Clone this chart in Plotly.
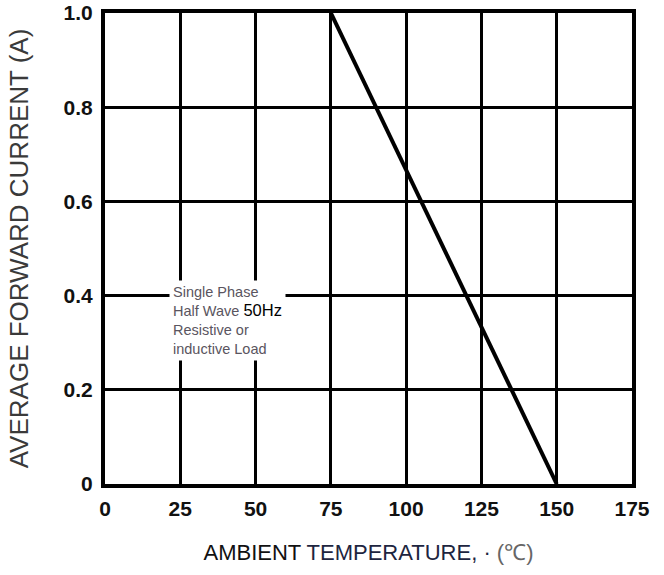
import plotly.graph_objects as go

# data
temp = [75, 150]
current = [1.0, 0.0]
x_ticks = [0, 25, 50, 75, 100, 125, 150, 175]
x_tick_labels = ["0", "25", "50", "75", "100", "125", "150", "175"]
y_ticks = [0, 0.2, 0.4, 0.6, 0.8, 1.0]
y_tick_labels = ["0", "0.2", "0.4", "0.6", "0.8", "1.0"]

fig = go.Figure()
fig.add_trace(go.Scatter(x=temp, y=current, mode="lines",
                         line=dict(color="black", width=4), showlegend=False,
                         hoverinfo="skip"))

tickfont = dict(family="Liberation Sans, Arial", size=21, color="#111111", weight="bold")

fig.update_layout(
    width=664, height=575,
    margin=dict(l=105, r=32, t=13, b=91),
    paper_bgcolor="white", plot_bgcolor="white",
    xaxis=dict(range=[0, 175], tickvals=x_ticks, ticktext=x_tick_labels,
               showgrid=True, gridcolor="black", gridwidth=2.5, automargin=False,
               zeroline=False, showline=True, linecolor="black", linewidth=4, mirror=True,
               ticks="", tickfont=tickfont, ticklabelstandoff=3,
               title=dict(text=("AMBIENT <span style='color:#1d2540'>TEMPERATURE, ·</span> "
                                "<span style='color:#666666'>(℃)</span>"),
                          font=dict(family="Liberation Sans, Arial", size=22, color="#111111"),
                          standoff=26)),
    yaxis=dict(range=[0, 1.0], tickvals=y_ticks, ticktext=y_tick_labels,
               showgrid=True, gridcolor="black", gridwidth=2.5, automargin=False,
               zeroline=False, showline=True, linecolor="black", linewidth=4, mirror=True,
               ticks="", tickfont=tickfont, ticklabelstandoff=4,
               title=dict(text="AVERAGE FORWARD CURRENT (A)",
                          font=dict(family="Liberation Sans, Arial", size=26, color="#3a3a3a"),
                          standoff=28)),
)

fig.add_annotation(
    x=21.4, y=0.434, xref="x", yref="y", xanchor="left", yanchor="top",
    text=("Single Phase<br>Half Wave <span style='color:black;font-size:16.5px'>50Hz</span><br>"
          "Resistive or<br>inductive Load"),
    align="left", showarrow=False, bgcolor="white", borderpad=3,
    font=dict(family="Liberation Sans, Arial", size=14.5, color="#5a5560"),
)

fig.write_html("out.html", config={"displayModeBar": False},
               post_script="document.body.style.margin='0';")
